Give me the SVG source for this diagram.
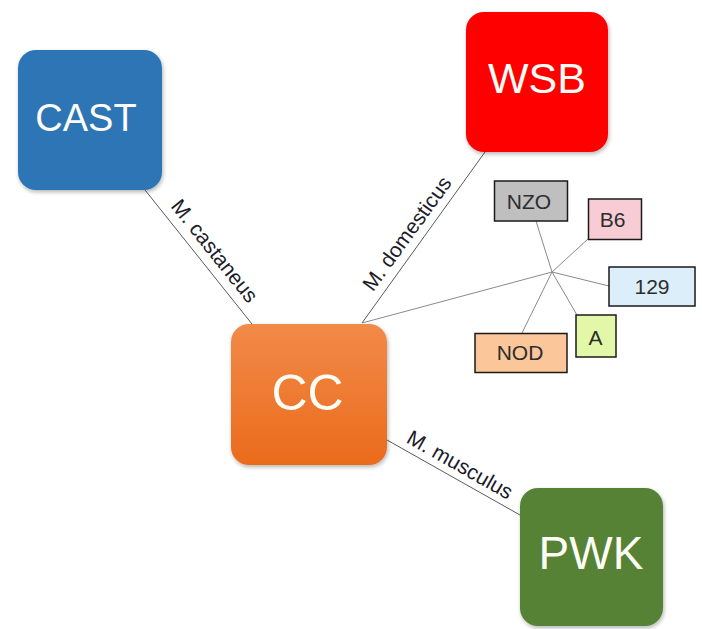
<svg xmlns="http://www.w3.org/2000/svg" width="702" height="629" viewBox="0 0 702 629">
<defs>
<linearGradient id="gcc" x1="0" y1="0" x2="0" y2="1">
<stop offset="0" stop-color="#f28a48"/>
<stop offset="1" stop-color="#ea6b1c"/>
</linearGradient>
<filter id="sh" x="-10%" y="-10%" width="125%" height="125%">
<feGaussianBlur in="SourceAlpha" stdDeviation="2"/>
<feOffset dx="1" dy="2"/>
<feComponentTransfer><feFuncA type="linear" slope="0.3"/></feComponentTransfer>
<feMerge><feMergeNode/><feMergeNode in="SourceGraphic"/></feMerge>
</filter>
</defs>
<style>
.big{font-family:"Liberation Sans",Arial,sans-serif;fill:#fdfdf5;text-anchor:middle}
.small{font-family:"Liberation Sans",Arial,sans-serif;font-size:21px;fill:#2d2d2d;text-anchor:middle}
.sbox{stroke:#1a1a1a;stroke-width:1.5}
.lbl{font-family:"Liberation Sans",Arial,sans-serif;font-size:21px;fill:#1c1c28;text-anchor:middle}
.sp{stroke:#5a5a5a;stroke-width:1;fill:none}
.hub{stroke:#8a8a8a;stroke-width:1;fill:none}
</style>
<rect width="702" height="629" fill="#ffffff"/>
<g id="connectors">
<line class="sp" x1="145" y1="190" x2="252" y2="324"/>
<line class="sp" x1="485" y1="152" x2="362" y2="323"/>
<line class="sp" x1="387" y1="440" x2="520" y2="515"/>
<line class="hub" x1="362" y1="323" x2="552" y2="272"/>
<line class="hub" x1="552" y1="272" x2="536" y2="221"/>
<line class="hub" x1="552" y1="272" x2="588" y2="239"/>
<line class="hub" x1="552" y1="272" x2="609" y2="286"/>
<line class="hub" x1="552" y1="272" x2="577" y2="315"/>
<line class="hub" x1="552" y1="272" x2="522" y2="333"/>
<text class="lbl" transform="translate(202,261) rotate(51.4)" y="-9">M. castaneus</text>
<text class="lbl" transform="translate(420,243) rotate(-54)" y="-9">M. domesticus</text>
<text class="lbl" transform="translate(453,477) rotate(29.5)" y="-7">M. musculus</text>
</g>
<g id="CAST">
<rect x="18" y="50" width="144" height="140" rx="18" fill="#2e75b6" filter="url(#sh)"/>
<text class="big" x="86" y="131" font-size="38">CAST</text>
</g>
<g id="WSB">
<rect x="466" y="12" width="142" height="140" rx="18" fill="#ff0000" filter="url(#sh)"/>
<text class="big" x="537" y="93" font-size="43">WSB</text>
</g>
<g id="CC">
<rect x="231" y="324" width="156" height="141" rx="18" fill="url(#gcc)" filter="url(#sh)"/>
<text class="big" x="307.5" y="410" font-size="50">CC</text>
</g>
<g id="PWK">
<rect x="520" y="488" width="143" height="138" rx="18" fill="#548235" filter="url(#sh)"/>
<text class="big" x="591" y="569" font-size="46">PWK</text>
</g>
<g id="NZO">
<rect class="sbox" x="494.5" y="181" width="73" height="40" fill="#bfbfbf"/>
<text class="small" x="529" y="209">NZO</text>
</g>
<g id="B6">
<rect class="sbox" x="588.5" y="199" width="53" height="40.5" fill="#f8ccd5"/>
<text class="small" x="612.5" y="227">B6</text>
</g>
<g id="n129">
<rect class="sbox" x="609" y="267" width="86" height="39" fill="#ddeefb"/>
<text class="small" x="652" y="293.5">129</text>
</g>
<g id="A">
<rect class="sbox" x="576" y="315" width="40" height="42" fill="#e2f8a8"/>
<text class="small" x="595.5" y="344.5">A</text>
</g>
<g id="NOD">
<rect class="sbox" x="475" y="333.5" width="92" height="39" fill="#fbc699"/>
<text class="small" x="520" y="359.5">NOD</text>
</g>
</svg>
